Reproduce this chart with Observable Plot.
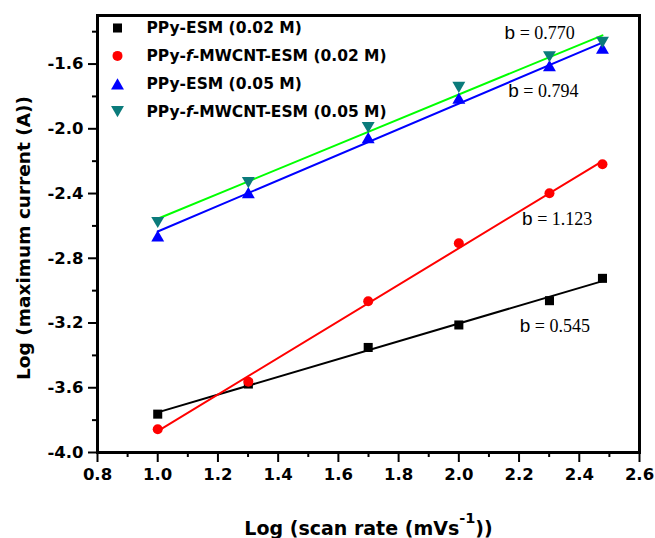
<!DOCTYPE html>
<html>
<head>
<meta charset="utf-8">
<script src="https://cdn.jsdelivr.net/npm/d3@7"></script>
<script src="https://cdn.jsdelivr.net/npm/@observablehq/plot@0.6"></script>
<style>
  body { margin: 0; background: #fff; }
</style>
</head>
<body>
<div id="chart"></div>
<script>
// ---- data ----
const xLogScanRate = [1.0, 1.301, 1.699, 2.0, 2.301, 2.477];
const ppyEsm002    = [-3.763, -3.577, -3.351, -3.212, -3.062, -2.924];
const ppyMwcnt002  = [-3.856, -3.563, -3.066, -2.707, -2.398, -2.219];
const ppyEsm005    = [-2.662, -2.394, -2.054, -1.810, -1.610, -1.501];
const ppyMwcnt005  = [-2.579, -2.332, -1.992, -1.744, -1.555, -1.466];

const seriesNames = ["PPy-ESM (0.02 M)", "PPy-f-MWCNT-ESM (0.02 M)", "PPy-ESM (0.05 M)", "PPy-f-MWCNT-ESM (0.05 M)"];
const seriesValues = [ppyEsm002, ppyMwcnt002, ppyEsm005, ppyMwcnt005];

const annotationTexts = ["b = 0.770", "b = 0.794", "b = 1.123", "b = 0.545"];
const annotationX = [2.152, 2.164, 2.21, 2.202];
const annotationY = [-1.41, -1.769, -2.559, -3.221];

const xMajorTicks = [0.8, 1.0, 1.2, 1.4, 1.6, 1.8, 2.0, 2.2, 2.4, 2.6];
const xMinorTicks = [0.9, 1.1, 1.3, 1.5, 1.7, 1.9, 2.1, 2.3, 2.5];
const yMajorTicks = [-4.0, -3.6, -3.2, -2.8, -2.4, -2.0, -1.6];
const yMinorTicks = [-3.8, -3.4, -3.0, -2.6, -2.2, -1.8, -1.4];

// ---- styles ----
const markerColors = ["#000000", "#ff0000", "#0000ff", "#0b7b7b"];
const lineColors   = ["#000000", "#ff0000", "#0000ff", "#00ff00"];

function triangle(up) {
  return {
    draw(ctx, size) {
      const s = Math.sqrt(size * 4 / Math.sqrt(3));
      const h = s * Math.sqrt(3) / 2;
      const k = up ? 1 : -1;
      ctx.moveTo(0, -k * h / 2);
      ctx.lineTo(s / 2, k * h / 2);
      ctx.lineTo(-s / 2, k * h / 2);
      ctx.closePath();
    }
  };
}
const symbols = ["square", "circle", triangle(true), triangle(false)];
const radii = [5.1, 5, 4.8, 4.8];

const rows = seriesNames.flatMap((name, i) =>
  xLogScanRate.map((x, j) => ({series: name, x, y: seriesValues[i][j]})));
const annRows = annotationTexts.map((t, i) => ({text: t, x: annotationX[i], y: annotationY[i]}));

const fmt = d => d.toFixed(1);
const sans = "DejaVu Sans";

const marks = [];
seriesNames.forEach((name, i) => {
  marks.push(Plot.linearRegressionY(rows.filter(d => d.series === name),
    {x: "x", y: "y", stroke: lineColors[i], strokeWidth: 2, ci: 0}));
});
seriesNames.forEach((name, i) => {
  marks.push(Plot.dot(rows.filter(d => d.series === name),
    {x: "x", y: "y", symbol: symbols[i], fill: markerColors[i], stroke: "none", r: radii[i]}));
});
// legend
seriesNames.forEach((name, i) => {
  marks.push(Plot.dot([name], {frameAnchor: "top-left", dx: 20, dy: 12.5 + i * 27.9,
    symbol: symbols[i], fill: markerColors[i], stroke: "none", r: radii[i]}));
  marks.push(Plot.text([name], {frameAnchor: "top-left", dx: 49, dy: 12.5 + i * 27.9,
    text: d => d, textAnchor: "start", lineAnchor: "middle",
    fontSize: 15.5, fontWeight: "bold", fontFamily: sans, fill: "black"}));
});
// annotations
marks.push(Plot.text(annRows, {x: "x", y: "y", text: "text", textAnchor: "start",
  lineAnchor: "middle", fontSize: 18, fontFamily: "Liberation Serif", fill: "black"}));
// axes
marks.push(Plot.axisX({ticks: xMajorTicks, tickSize: 10, tickPadding: 6, tickFormat: fmt,
  fontSize: 16.5, fontWeight: "bold", fontFamily: sans, strokeWidth: 2, label: null}));
marks.push(Plot.axisX({ticks: xMinorTicks, tickSize: 5, text: null, strokeWidth: 2, label: null}));
marks.push(Plot.axisY({ticks: yMajorTicks, tickSize: 9, tickPadding: 5, tickFormat: fmt,
  fontSize: 16.5, fontWeight: "bold", fontFamily: sans, strokeWidth: 2, label: null}));
marks.push(Plot.axisY({ticks: yMinorTicks, tickSize: 5, text: null, strokeWidth: 2, label: null}));
// axis titles
marks.push(Plot.text(["Log (scan rate (mVs-1))"], {frameAnchor: "bottom", dy: 76,
  text: d => d, textAnchor: "middle", lineAnchor: "middle", fontSize: 19, fontWeight: "bold", fontFamily: sans, fill: "black"}));
marks.push(Plot.text(["Log (maximum current (A))"], {frameAnchor: "left", dx: -73, dy: 4, rotate: -90,
  text: d => d, textAnchor: "middle", lineAnchor: "middle", fontSize: 18.5, fontWeight: "bold", fontFamily: sans, fill: "black"}));
marks.push(Plot.frame({stroke: "black", strokeWidth: 3}));

const chart = Plot.plot({
  width: 655,
  height: 538,
  marginLeft: 97,
  marginRight: 16,
  marginTop: 15,
  marginBottom: 86,
  style: {background: "white", color: "black", fontFamily: sans},
  x: {domain: [0.8, 2.6], axis: null},
  y: {domain: [-4.0, -1.3], axis: null},
  marks
});
document.getElementById("chart").appendChild(chart);

// rich text: italic f, superscript, mixed-font annotations
d3.select(chart).selectAll("text").each(function() {
  const t = this.textContent;
  const el = d3.select(this);
  if (t.includes("-f-")) {
    const [a, b] = t.split("-f-");
    el.text(null);
    el.append("tspan").text(a + "-");
    el.append("tspan").attr("font-style", "italic").text("f");
    el.append("tspan").text("-" + b);
  } else if (t === "Log (scan rate (mVs-1))") {
    el.text(null);
    el.append("tspan").text("Log (scan rate (mVs");
    el.append("tspan").attr("dy", -12).attr("font-size", 14.5).text("-1");
    el.append("tspan").attr("dy", 12).text("))");
  } else if (/^b = /.test(t)) {
    el.text(null);
    el.append("tspan").attr("font-family", "Liberation Sans").attr("font-size", 19).text("b");
    el.append("tspan").text(" = " + t.slice(4));
  }
});
</script>
</body>
</html>
